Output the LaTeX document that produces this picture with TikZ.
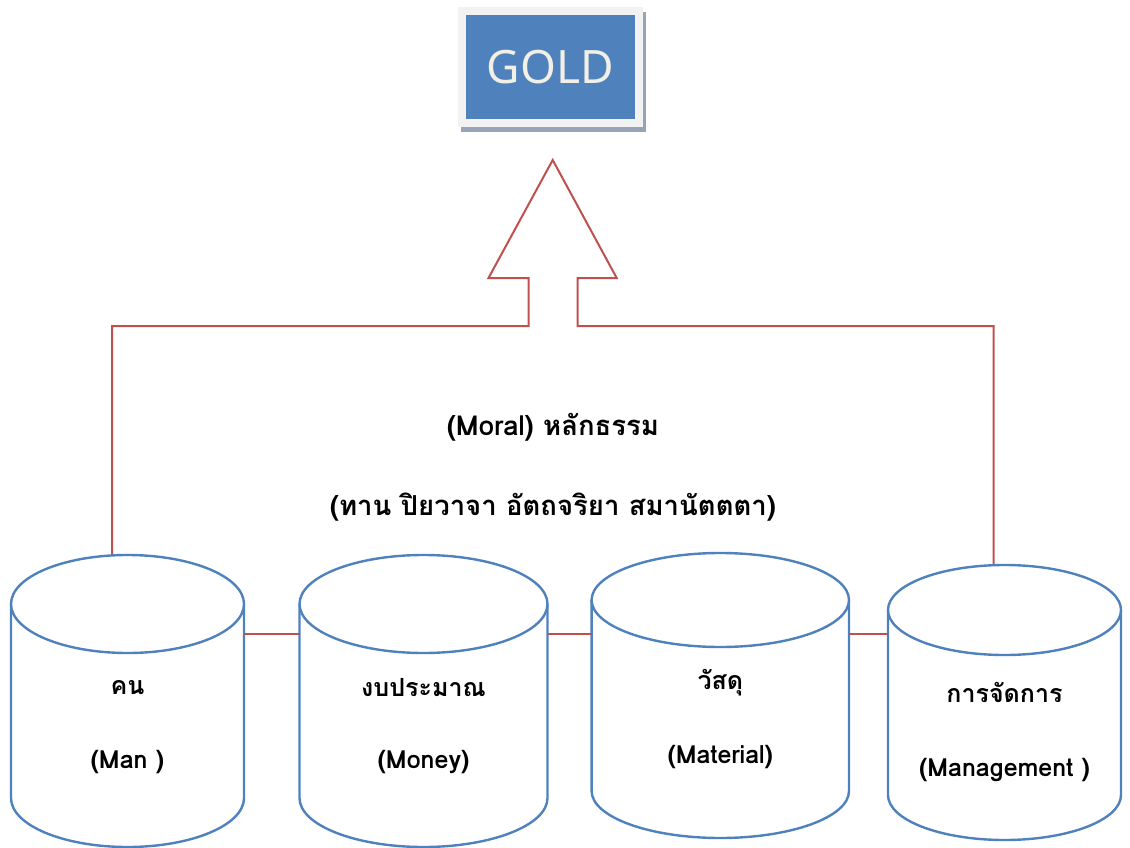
\documentclass[tikz,border=0pt]{standalone}
\usepackage{fontspec}
\setmainfont{Noto Sans}
\newfontfamily\thaifont[Script=Thai]{Loma}
\definecolor{accentblue}{HTML}{4F81BD}
\definecolor{accentred}{HTML}{C0504D}
\definecolor{framegray}{HTML}{F2F2F2}
\definecolor{shadowgray}{HTML}{97A3B6}
\definecolor{cream}{HTML}{F1EFE6}
\tikzset{
  cylline/.style={draw=accentblue, line width=2.4pt},
  link/.style={draw=accentred, line width=2pt},
  label/.style={font=\thaifont\bfseries\fontsize{25}{29}\selectfont, align=center, inner sep=0pt},
  moral/.style={font=\thaifont\bfseries\fontsize{27.5}{31}\selectfont, inner sep=0pt}
}
% \drumshape{name}{cx}{top y}{rx}{ry}{bottom y}
\newcommand{\drumshape}[6]{%
  \draw[cylline] (#2-#4,#3) -- (#2-#4,#6)
     arc[start angle=180, end angle=0, x radius=#4, y radius=#5] -- (#2+#4,#3);
  \draw[cylline, fill=white] (#2,#3) ellipse [x radius=#4, y radius=#5];
  \coordinate (#1-w) at (#2-#4,634);
  \coordinate (#1-e) at (#2+#4,634);
}
\begin{document}
\begin{tikzpicture}[x=1pt, y=-1pt]
\useasboundingbox (0,0) rectangle (1130,848);

% GOLD box with frame and shadow
\fill[shadowgray] (461,12) rectangle (646,132);
\fill[framegray] (458,7) rectangle (643,127);
\node[fill=accentblue, minimum width=169pt, minimum height=104pt, inner sep=0pt,
      text=cream, font=\fontsize{46}{50}\selectfont] (gold) at (550.5,67) {GOLD};

% block arrow pointing up at the goal
\draw[link, line join=miter] (112,555) -- (112,326) -- (528.5,326) -- (528.5,278) -- (488.5,278)
   -- (552.7,160) -- (616.7,278) -- (577.5,278) -- (577.5,326) -- (993.5,326) -- (993.5,565);

% the four resources
\drumshape{man}{127.5}{604}{116.5}{49}{798}
\drumshape{money}{423.5}{604}{124}{49}{798}
\drumshape{material}{720.3}{600}{128.7}{47}{791}
\drumshape{mgmt}{1004.5}{610}{116.5}{45}{795}

\draw[link] (man-e) -- (money-w);
\draw[link] (money-e) -- (material-w);
\draw[link] (material-e) -- (mgmt-w);

\node[label] (manth) at (127.5,688) {คน};
\node[label] (manen) at (127.5,762) {(Man )};
\node[label] (moneyth) at (423.5,688) {งบประมาณ};
\node[label] (moneyen) at (423.5,762) {(Money)};
\node[label] (matth) at (720.3,683) {วัสดุ};
\node[label] (maten) at (720.3,757) {(Material)};
\node[label] (mgmtth) at (1004.5,692) {การจัดการ};
\node[label] (mgmten) at (1004.5,770) {(Management )};

% the moral principles
\node[moral] (moral) at (553,427) {(Moral) หลักธรรม};
\node[moral] (virtues) at (553,507) {(ทาน ปิยวาจา อัตถจริยา สมานัตตตา)};
\end{tikzpicture}
\end{document}
